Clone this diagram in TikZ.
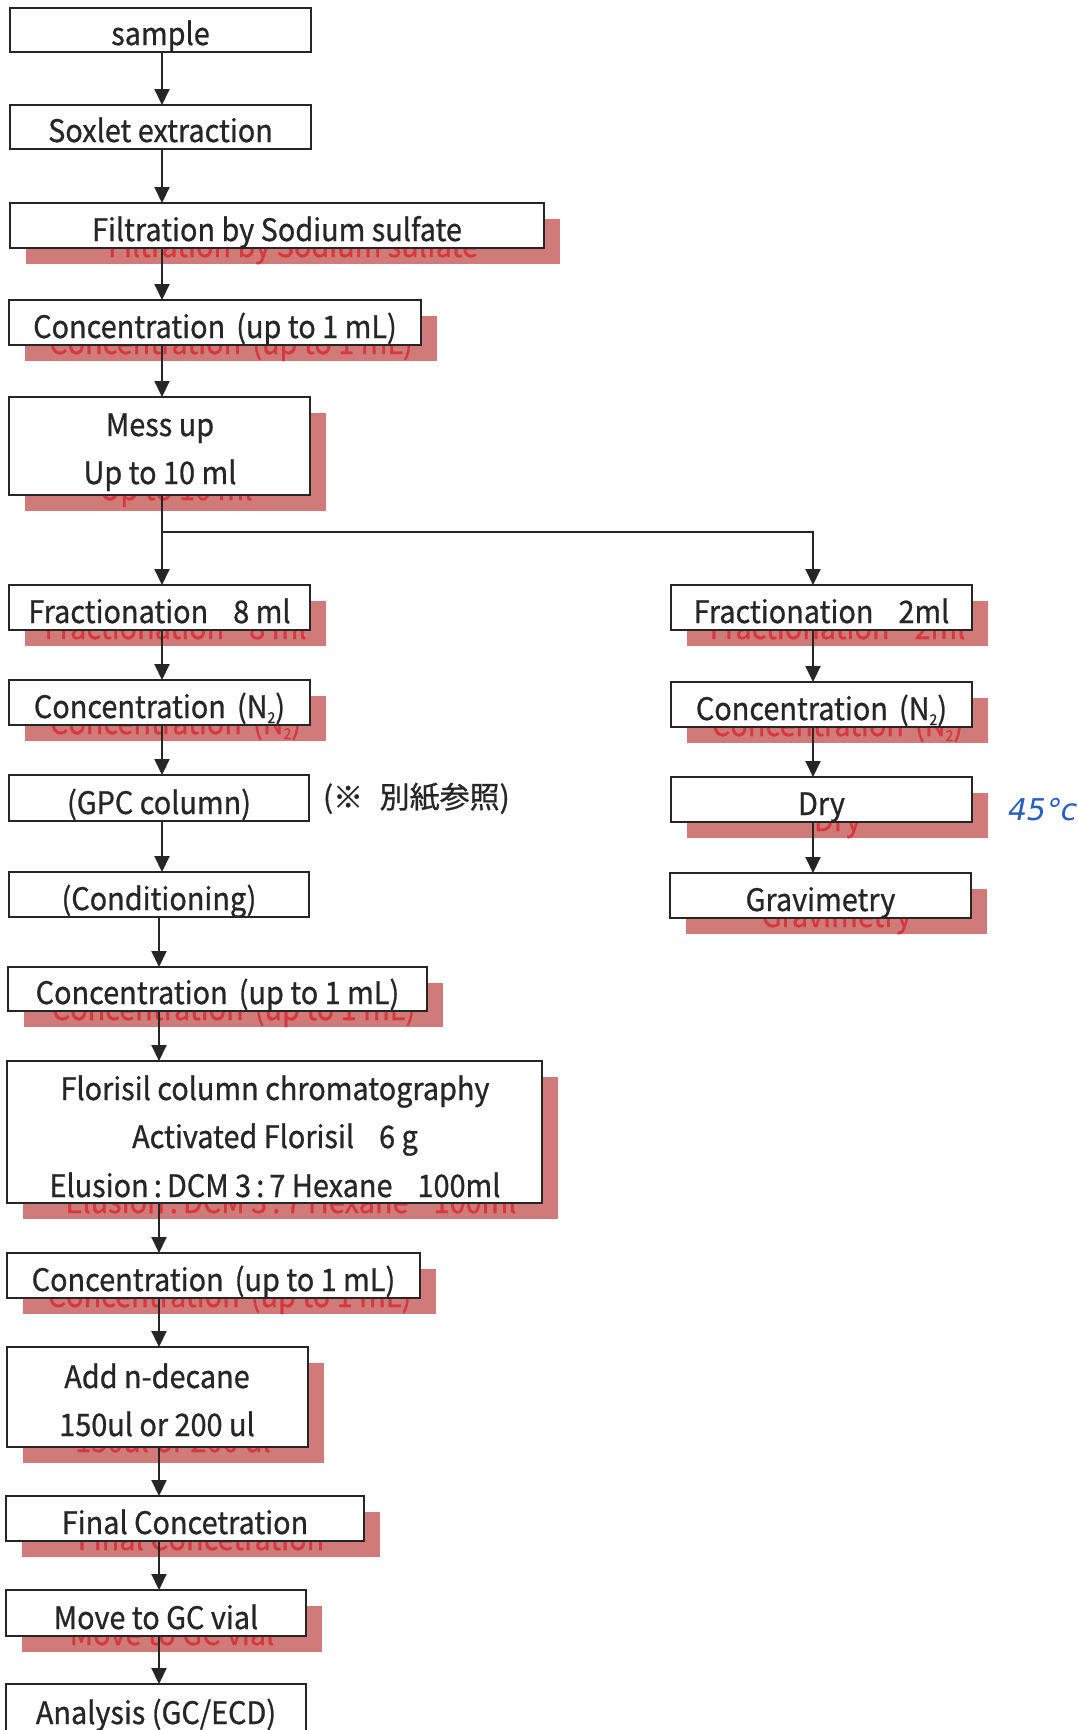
\documentclass[tikz,border=0pt]{standalone}
\usepackage{fontspec}
\setmainfont{Noto Sans CJK JP}[FakeStretch=0.93, FakeBold=0.8]
\newfontfamily\cjknote{Noto Sans CJK JP}[FakeBold=0.8]
\newfontfamily\handfont[FakeSlant=0.2]{DejaVu Sans}
\usetikzlibrary{arrows.meta}
\definecolor{shfill}{RGB}{208,122,122}
\definecolor{shtxt}{RGB}{214,56,60}
\definecolor{ink}{RGB}{38,38,38}
\definecolor{pen}{RGB}{40,95,195}

\tikzset{
  boxst/.style={draw=ink, line width=2.2pt, fill=white, inner sep=0pt, outer sep=0pt},
  shst/.style={fill=shfill, draw=none, inner sep=0pt, outer sep=0pt},
  lbl/.style={inner sep=0pt, outer sep=0pt, font=\fontsize{31}{31}\selectfont, text=ink, anchor=base},
  shlbl/.style={lbl, text=shtxt},
  arr/.style={draw=ink, line width=2pt, -{Triangle[width=15pt,length=16pt]}},
  link/.style={draw=ink, line width=2pt},
}

% name, x1, y1, x2, y2
\newcommand\mybox[5]{\node[boxst, minimum width={(#4-#2)*1pt}, minimum height={(#5-#3)*1pt}] (#1) at ({(#2+#4)/2},{(#3+#5)/2}) {};}
\newcommand\myshadow[5]{\node[shst, minimum width={(#4-#2)*1pt}, minimum height={(#5-#3)*1pt}] (#1-sh) at ({(#2+#4)/2+16},{(#3+#5)/2+16}) {};}
% name, x1, y1, x2, y2, text   (single line)
\newcommand\plainbox[6]{\mybox{#1}{#2}{#3}{#4}{#5}
  \node[lbl] (#1-t) at ({(#2+#4)/2},{#5-7}) {#6};}
\newcommand\shadbox[6]{\myshadow{#1}{#2}{#3}{#4}{#5}
  \node[shlbl] (#1-st) at ({(#2+#4)/2+16},{#5-7+16}) {#6};
  \mybox{#1}{#2}{#3}{#4}{#5}
  \node[lbl] (#1-t) at ({(#2+#4)/2},{#5-7}) {#6};}
\newcommand\Ntwo{N\raisebox{-5pt}{\fontsize{15}{15}\selectfont 2}}

\begin{document}
\begin{tikzpicture}[x=1pt, y=-1pt]
\useasboundingbox (0,0) rectangle (1078,1730);
\fill[white] (0,0) rectangle (1078,1730);

\coordinate (ax1) at (162,0);
\coordinate (ax2) at (159,0);
\coordinate (ax3) at (813,0);

% left column
\plainbox{sample}{10}{8}{311}{52}{sample}
\plainbox{soxlet}{10}{105}{311}{149}{Soxlet extraction}
\shadbox{filt}{10}{203}{544}{248}{Filtration by Sodium sulfate}
\shadbox{conca}{9}{300}{421}{345}{Concentration\hspace{0.15em} (up to 1 mL)}

% Mess up (two lines)
\myshadow{mess}{9}{397}{310}{495}
\node[shlbl] (mess-st1) at (176,452) {Mess up};
\node[shlbl] (mess-st2) at (176,500) {Up to 10 ml};
\mybox{mess}{9}{397}{310}{495}
\node[lbl] (mess-t1) at (160,436) {Mess up};
\node[lbl] (mess-t2) at (160,484) {Up to 10 ml};

\shadbox{fraca}{9}{585}{310}{630}{Fractionation\hspace{0.6em} 8 ml}
\shadbox{concna}{9}{680}{310}{725}{Concentration\hspace{0.15em} (\Ntwo)}
\plainbox{gpc}{9}{775}{309}{821}{(GPC column)}
\node[lbl, anchor=base west, font=\cjknote\fontsize{30}{30}\selectfont] (note) at (323,808) {(※\hspace{0.55em}別紙参照)};
\plainbox{cond}{9}{872}{309}{917}{(Conditioning)}
\shadbox{concb}{8}{967}{427}{1011}{Concentration\hspace{0.15em} (up to 1 mL)}

% Florisil (three lines)
\myshadow{flor}{7}{1061}{542}{1203}
\node[shlbl] (flor-st3) at (291,1213) {Elusion\,:\,DCM 3\,:\,7 Hexane\hspace{0.6em} 100ml};
\mybox{flor}{7}{1061}{542}{1203}
\node[lbl] (flor-t1) at (275,1100) {Florisil column chromatography};
\node[lbl] (flor-t2) at (275,1148) {Activated Florisil\hspace{0.6em} 6 g};
\node[lbl] (flor-t3) at (275,1197) {Elusion\,:\,DCM 3\,:\,7 Hexane\hspace{0.6em} 100ml};

\shadbox{concc}{7}{1253}{420}{1298}{Concentration\hspace{0.15em} (up to 1 mL)}

% Add n-decane (two lines)
\myshadow{add}{7}{1347}{308}{1447}
\node[shlbl] (add-st2) at (173,1452) {150ul or 200 ul};
\mybox{add}{7}{1347}{308}{1447}
\node[lbl] (add-t1) at (157,1388) {Add n-decane};
\node[lbl] (add-t2) at (157,1436) {150ul or 200 ul};

\shadbox{final}{6}{1496}{364}{1541}{Final Concetration}
\shadbox{move}{6}{1590}{306}{1636}{Move to GC vial}
\mybox{anal}{6}{1684}{306}{1760}
\node[lbl] (anal-t) at (156,1724) {Analysis (GC/ECD)};

% right column
\shadbox{fracb}{671}{585}{972}{630}{Fractionation\hspace{0.6em} 2ml}
\shadbox{concnb}{671}{682}{972}{727}{Concentration\hspace{0.15em} (\Ntwo)}
\shadbox{dry}{671}{777}{972}{822}{Dry}
\shadbox{grav}{670}{873}{971}{918}{Gravimetry}

\node[text=pen, font=\handfont\fontsize{30}{30}\selectfont, anchor=base west, inner sep=0pt] (temp) at (1006,820) {45°c};

% connectors
\draw[arr] (sample.south -| ax1) -- (soxlet.north -| ax1);
\draw[arr] (soxlet.south -| ax1) -- (filt.north -| ax1);
\draw[arr] (filt.south -| ax1) -- (conca.north -| ax1);
\draw[arr] (conca.south -| ax1) -- (mess.north -| ax1);
\coordinate (branch) at (162,532);
\draw[link] (mess.south -| ax1) -- (branch);
\draw[arr] (branch) -- (fraca.north -| ax1);
\draw[arr] (branch) -| (fracb.north -| ax3);
\draw[arr] (fraca.south -| ax1) -- (concna.north -| ax1);
\draw[arr] (concna.south -| ax1) -- (gpc.north -| ax1);
\draw[arr] (gpc.south -| ax1) -- (cond.north -| ax1);
\draw[arr] (cond.south -| ax2) -- (concb.north -| ax2);
\draw[arr] (concb.south -| ax2) -- (flor.north -| ax2);
\draw[arr] (flor.south -| ax2) -- (concc.north -| ax2);
\draw[arr] (concc.south -| ax2) -- (add.north -| ax2);
\draw[arr] (add.south -| ax2) -- (final.north -| ax2);
\draw[arr] (final.south -| ax2) -- (move.north -| ax2);
\draw[arr] (move.south -| ax2) -- (anal.north -| ax2);
\draw[arr] (fracb.south -| ax3) -- (concnb.north -| ax3);
\draw[arr] (concnb.south -| ax3) -- (dry.north -| ax3);
\draw[arr] (dry.south -| ax3) -- (grav.north -| ax3);
\end{tikzpicture}
\end{document}
